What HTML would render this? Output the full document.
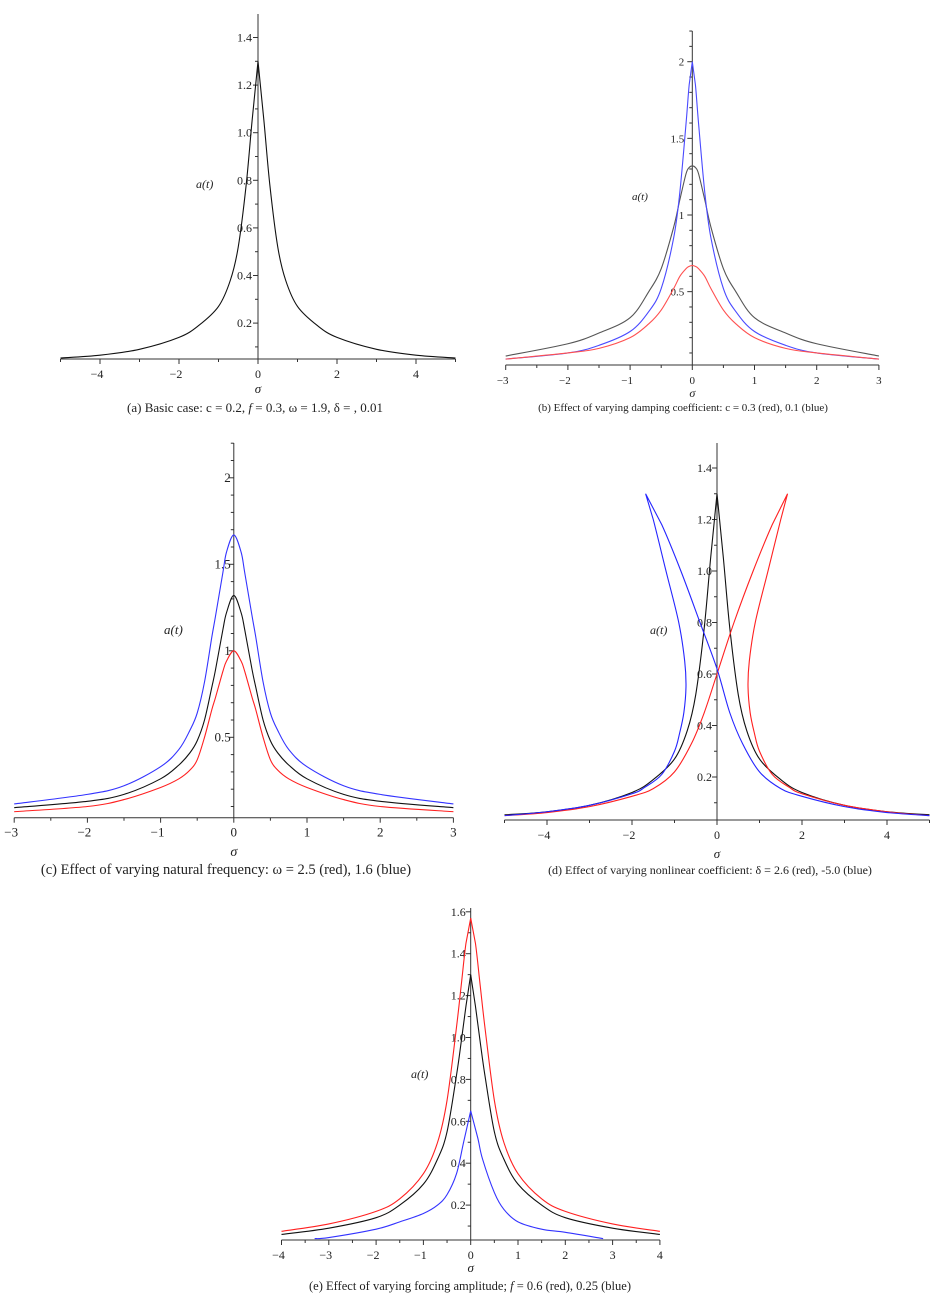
<!DOCTYPE html>
<html><head><meta charset="utf-8"><style>
html,body{margin:0;padding:0;background:#fff}
svg{display:block}
text{font-family:"Liberation Serif",serif;fill:#222}
</style></head><body>
<svg id="fig" width="937" height="1305" viewBox="0 0 937 1305" xmlns="http://www.w3.org/2000/svg"></svg>
<script>
// ---- data: panel (a)
const aSig = [-5,-4,-3,-2,-1.5,-1,-0.7,-0.5,-0.3,-0.15,0,0.15,0.3,0.5,0.7,1,1.5,2,3,4,5];
const aBlack = [0.053,0.065,0.09,0.14,0.19,0.27,0.38,0.52,0.78,1.05,1.3,1.05,0.78,0.52,0.38,0.27,0.19,0.14,0.09,0.065,0.053];
// ---- panel (b)
const bSig = [-3,-2,-1.5,-1,-0.7,-0.5,-0.3,-0.2,-0.1,-0.05,0,0.05,0.1,0.2,0.3,0.5,0.7,1,1.5,2,3];
const bBlack = [0.08,0.16,0.23,0.33,0.5,0.65,0.92,1.1,1.27,1.31,1.32,1.31,1.27,1.1,0.92,0.65,0.5,0.33,0.23,0.16,0.08];
const bBlue  = [0.06,0.1,0.15,0.24,0.37,0.52,0.85,1.15,1.6,1.85,2.0,1.85,1.6,1.15,0.85,0.52,0.37,0.24,0.15,0.1,0.06];
const bRed   = [0.06,0.1,0.13,0.2,0.29,0.38,0.52,0.6,0.65,0.665,0.67,0.665,0.65,0.6,0.52,0.38,0.29,0.2,0.13,0.1,0.06];
// ---- panel (c)
const cSig = [-3,-2,-1.5,-1,-0.75,-0.6,-0.5,-0.4,-0.3,-0.25,-0.15,-0.1,0,0.1,0.15,0.25,0.3,0.4,0.5,0.6,0.75,1,1.5,2,3];
const cBlack = [0.093,0.13,0.17,0.26,0.34,0.41,0.48,0.6,0.79,0.89,1.12,1.22,1.32,1.22,1.12,0.89,0.79,0.6,0.48,0.41,0.34,0.26,0.17,0.13,0.093];
const cBlue  = [0.115,0.17,0.22,0.33,0.43,0.54,0.64,0.82,1.08,1.2,1.45,1.57,1.67,1.57,1.45,1.2,1.08,0.82,0.64,0.54,0.43,0.33,0.22,0.17,0.115];
const cRed   = [0.07,0.1,0.14,0.21,0.26,0.31,0.37,0.5,0.66,0.73,0.88,0.94,1.0,0.94,0.88,0.73,0.66,0.5,0.37,0.31,0.26,0.21,0.14,0.1,0.07];
// ---- panel (d) (parametric traces: sigma, amplitude)
const dSigRed = [-5,-4,-3,-2,-1.5,-1,-0.6,-0.3,0,0.4,0.85,1.3,1.66,1.5,1.2,0.9,0.76,0.73,0.78,0.88,1.0,1.3,1.7,2,3,4,5];
const dAmpRed = [0.05,0.062,0.085,0.125,0.155,0.22,0.33,0.45,0.6,0.8,1.0,1.18,1.3,1.2,1.0,0.8,0.65,0.55,0.45,0.37,0.3,0.21,0.16,0.135,0.09,0.065,0.05];
const dSigBlue = [5,4,3,2,1.5,1,0.6,0.3,0,-0.4,-0.85,-1.3,-1.68,-1.5,-1.2,-0.9,-0.76,-0.73,-0.78,-0.88,-1.0,-1.3,-1.7,-2,-3,-4,-5];
const dAmpBlue = [0.05,0.062,0.085,0.125,0.155,0.22,0.33,0.45,0.62,0.8,1.0,1.18,1.3,1.2,1.0,0.8,0.65,0.55,0.45,0.37,0.3,0.21,0.16,0.135,0.09,0.065,0.05];
// ---- panel (e)
const eSig = [-4,-3,-2,-1.5,-1,-0.7,-0.5,-0.3,-0.2,-0.1,0,0.1,0.2,0.3,0.5,0.7,1,1.5,2,3,4];
const eBlack = [0.06,0.09,0.14,0.2,0.3,0.42,0.55,0.82,0.98,1.15,1.3,1.15,0.98,0.82,0.55,0.42,0.3,0.2,0.14,0.09,0.06];
const eRed   = [0.075,0.11,0.17,0.23,0.35,0.5,0.7,1.05,1.25,1.45,1.57,1.45,1.25,1.05,0.7,0.5,0.35,0.23,0.17,0.11,0.075];
const eSigBlue = [-3.3,-3,-2,-1.5,-1,-0.7,-0.5,-0.3,-0.15,0,0.15,0.25,0.5,0.7,1,1.5,2,2.8];
const eBlue  = [0.04,0.045,0.085,0.12,0.16,0.2,0.25,0.35,0.5,0.65,0.52,0.42,0.26,0.18,0.12,0.085,0.07,0.04];

const NS="http://www.w3.org/2000/svg";
const svg=document.getElementById('fig');
function mk(tag,attrs,parent){const e=document.createElementNS(NS,tag);for(const k in attrs)e.setAttribute(k,attrs[k]);(parent||svg).appendChild(e);return e;}
function fix(v){return Math.round(v*100)/100;}

function panel(p){
  const g=mk('g',{});
  
  
  const X=v=>p.x0+v*p.ppx, Y=v=>p.y0-v*p.ppy;
  const xa=mk('line',{x1:X(p.xmin),x2:X(p.xmax),y1:p.axisY,y2:p.axisY,stroke:'#333','stroke-width':1},g);
  
  
  const ya=mk('line',{x1:p.x0,x2:p.x0,y1:p.top,y2:p.axisY,stroke:'#333','stroke-width':1},g);
  
  
  const nx=Math.round((p.xmax-p.xmin)/p.xminor);
  for(let i=0;i<=nx;i++){
    const v=p.xmin+i*p.xminor; const major=Math.abs(v/p.xmajor-Math.round(v/p.xmajor))<1e-6;
    mk('line',{x1:X(v),x2:X(v),y1:p.axisY,y2:p.axisY+(major?5:3),stroke:'#333'},g);
    if(major){const t=mk('text',{x:X(v)-(v<0?3:0),y:p.axisY+19,'text-anchor':'middle','font-size':p.fs},g);t.textContent=(v<0?'\u2212':'')+Math.abs(Math.round(v*10)/10);
      
      }
  }
  for(let v=p.yminor;v<=p.ymax+1e-9;v+=p.yminor){
    const yy=Y(v); if(yy<p.top||yy>p.axisY-2)continue;
    const major=Math.abs(v/p.ymajor-Math.round(v/p.ymajor))<1e-6;
    mk('line',{x1:p.x0-(major?5:3),x2:p.x0,y1:yy,y2:yy,stroke:'#333'},g);
    if(major){const t=mk('text',{x:p.x0+p.ylabOff,y:yy+4,'text-anchor':'end','font-size':p.fs},g);
      t.textContent=p.ydec?(Math.round(v*10)/10).toFixed(1):String(Math.round(v*10)/10);
      
      }
  }
  const sl=mk('text',{x:p.x0,y:p.sigY,'text-anchor':'middle','font-size':p.fs+1,'font-style':'italic'},g);sl.textContent='\u03c3';
  
  
  const al=mk('text',{x:p.atX,y:p.atY,'font-size':p.fs,'font-style':'italic'},g);al.textContent='a(t)';
  
  
  const cap=mk('text',{x:p.capX,y:p.capY,'text-anchor':'middle','font-size':p.capFs},g);cap.innerHTML=p.cap;
  
  
  p.series.forEach(s=>{
    const pts=s.x.map((v,i)=>[X(v),Y(s.y[i])]);
    let d='M'+fix(pts[0][0])+' '+fix(pts[0][1]);
    const mx=Math.max(...s.y);
    for(let i=0;i<pts.length-1;i++){
      const p0=pts[Math.max(0,i-1)],p1=pts[i],p2=pts[i+1],p3=pts[Math.min(pts.length-1,i+2)];
      const k=s.cusp&&(s.y[i]===mx||s.y[i+1]===mx)?0:1/6;
      const c1=[p1[0]+(p2[0]-p0[0])*k,p1[1]+(p2[1]-p0[1])*k];
      const c2=[p2[0]-(p3[0]-p1[0])*k,p2[1]-(p3[1]-p1[1])*k];
      d+=' C'+fix(c1[0])+' '+fix(c1[1])+' '+fix(c2[0])+' '+fix(c2[1])+' '+fix(p2[0])+' '+fix(p2[1]);
    }
    const path=mk('path',{d:d,fill:'none',stroke:s.color,'stroke-width':1.1},g);
    
    
  });
}

panel({name:'panel-a',x0:258,ppx:39.5,xmin:-5,xmax:5,xmajor:2,xminor:1,axisY:359,y0:370.7,ppy:238,top:14,ymax:1.45,ymajor:0.2,yminor:0.1,ydec:true,ylabOff:-6,fs:12,
  sigY:393,atX:196,atY:188,capX:255,capY:412,capFs:13,cap:'(a) Basic case: c = 0.2, <tspan font-style="italic">f</tspan> = 0.3, ω = 1.9, δ = , 0.01',
  series:[{name:'curve-basic',x:aSig,y:aBlack,color:'#111',cusp:true}]});
panel({name:'panel-b',x0:692.3,ppx:62.2,xmin:-3,xmax:3,xmajor:1,xminor:0.5,axisY:365,y0:368.3,ppy:153.3,top:31,ymax:2.2,ymajor:0.5,yminor:0.1,ydec:false,ylabOff:-8,fs:11,
  sigY:397,atX:632,atY:200,capX:683,capY:411,capFs:11,cap:'(b) Effect of varying damping coefficient: c = 0.3 (red), 0.1 (blue)',
  series:[{name:'curve-basic',x:bSig,y:bBlack,color:'#555',cusp:false},{name:'curve-c-0.1',x:bSig,y:bBlue,color:'#4a4aff',cusp:true},{name:'curve-c-0.3',x:bSig,y:bRed,color:'#ff5050',cusp:false}]});
panel({name:'panel-c',x0:233.8,ppx:73.2,xmin:-3,xmax:3,xmajor:1,xminor:0.5,axisY:817.7,y0:823.8,ppy:173,top:443,ymax:2.2,ymajor:0.5,yminor:0.1,ydec:false,ylabOff:-3,fs:13,
  sigY:856,atX:164,atY:634,capX:226,capY:874,capFs:14.5,cap:'(c) Effect of varying natural frequency: ω = 2.5 (red), 1.6 (blue)',
  series:[{name:'curve-basic',x:cSig,y:cBlack,color:'#111'},{name:'curve-omega-1.6',x:cSig,y:cBlue,color:'#3333ff'},{name:'curve-omega-2.5',x:cSig,y:cRed,color:'#ff2020'}]});
panel({name:'panel-d',x0:717,ppx:42.5,xmin:-5,xmax:5,xmajor:2,xminor:1,axisY:820,y0:828.5,ppy:257.5,top:443,ymax:1.45,ymajor:0.2,yminor:0.1,ydec:true,ylabOff:-5,fs:12,
  sigY:858,atX:650,atY:634,capX:710,capY:874,capFs:12,cap:'(d) Effect of varying nonlinear coefficient: δ = 2.6 (red), -5.0 (blue)',
  series:[{name:'curve-basic',x:aSig,y:aBlack,color:'#111',cusp:true},{name:'curve-delta-2.6',x:dSigRed,y:dAmpRed,color:'#ff2020',cusp:true},{name:'curve-delta-neg5',x:dSigBlue,y:dAmpBlue,color:'#2525ff',cusp:true}]});
panel({name:'panel-e',x0:470.7,ppx:47.3,xmin:-4,xmax:4,xmajor:1,xminor:0.5,axisY:1240,y0:1247,ppy:209.5,top:908,ymax:1.62,ymajor:0.2,yminor:0.1,ydec:true,ylabOff:-5,fs:12,
  sigY:1272,atX:411,atY:1078,capX:470,capY:1290,capFs:12.5,cap:'(e) Effect of varying forcing amplitude; <tspan font-style="italic">f</tspan> = 0.6 (red), 0.25 (blue)',
  series:[{name:'curve-basic',x:eSig,y:eBlack,color:'#111',cusp:true},{name:'curve-f-0.6',x:eSig,y:eRed,color:'#ff2020',cusp:true},{name:'curve-f-0.25',x:eSigBlue,y:eBlue,color:'#3333ff',cusp:true}]});
</script>
</body></html>
